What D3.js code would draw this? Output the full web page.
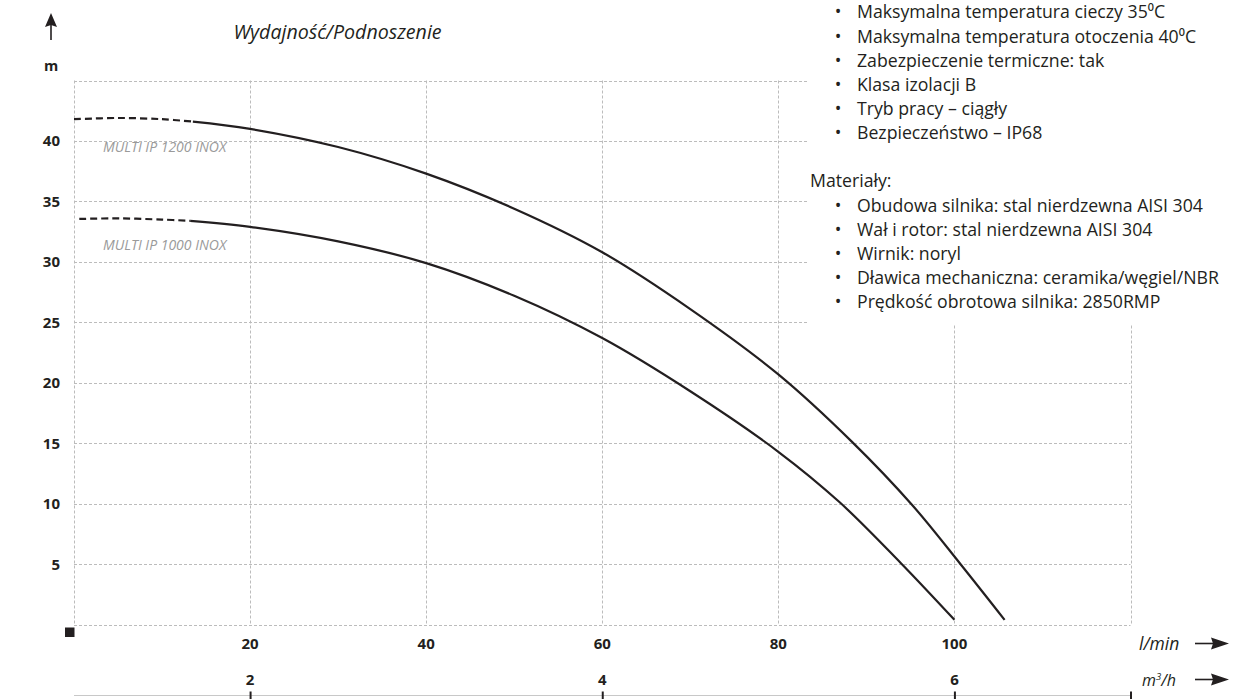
<!doctype html>
<html lang="pl">
<head>
  <meta charset="utf-8">
  <title>Wydajność/Podnoszenie</title>
  <script src="https://d3js.org/d3.v7.min.js"></script>
  <style>
    body { margin: 0; background: #fff; }
    text { font-family: "Open Sans", sans-serif; fill: #231f20; }
    .tick-label { font-weight: bold; font-size: 15px; }
    .grid line { stroke: #bcbcbc; stroke-width: 1; stroke-dasharray: 3,2; }
    .info { font-size: 17.7px; }
    .model { font-style: italic; font-size: 14px; fill: #9a9a9a; }
  </style>
</head>
<body>
<div class="chart-container"></div>
<script>
  // l/min axis + grid
  const flowTicks = [20, 40, 60, 80, 100];
  const flowGrid = [0, 20, 40, 60, 80, 100, 120];
  const headTicks = [5, 10, 15, 20, 25, 30, 35, 40];
  const headGrid = [0, 5, 10, 15, 20, 25, 30, 35, 40, 45];
  const m3hTicks = [2, 4, 6, 7];
  const m3hLabels = [2, 4, 6];

  // MULTI IP 1200 INOX (first 4 points = dashed part)
  const flow1200 = [0, 5, 10, 13.5, 20, 30, 40, 50, 60, 70, 80, 88.4, 95.2, 100.7, 105.7];
  const head1200 = [41.8, 41.9, 41.8, 41.6, 41.0, 39.5, 37.3, 34.4, 30.8, 26.1, 20.7, 15.1, 9.9, 5.0, 0.4];

  // MULTI IP 1000 INOX
  const flow1000 = [0.6, 5, 10, 13.2, 20, 30, 40, 50, 60, 70, 80, 87, 93.9, 100];
  const head1000 = [33.55, 33.6, 33.5, 33.4, 32.9, 31.7, 29.9, 27.2, 23.7, 19.3, 14.3, 10.1, 5.1, 0.4];

  const seriesNames = ['MULTI IP 1200 INOX', 'MULTI IP 1000 INOX'];
  const dashedUntil = 3;

  const infoLines = [
    'Maksymalna temperatura cieczy 35⁰C',
    'Maksymalna temperatura otoczenia 40⁰C',
    'Zabezpieczenie termiczne: tak',
    'Klasa izolacji B',
    'Tryb pracy – ciągły',
    'Bezpieczeństwo – IP68'
  ];
  const materialLines = [
    'Obudowa silnika: stal nierdzewna AISI 304',
    'Wał i rotor: stal nierdzewna AISI 304',
    'Wirnik: noryl',
    'Dławica mechaniczna: ceramika/węgiel/NBR',
    'Prędkość obrotowa silnika: 2850RMP'
  ];

  const width = 1246;
  const height = 699;

  const svg = d3.select('.chart-container').append('svg')
    .attr('width', width)
    .attr('height', height);

  const x = d3.scaleLinear().domain([0, 120]).range([74, 1130.5]);
  const xm = d3.scaleLinear().domain([1, 7]).range([74, 1130.5]);
  const y = d3.scaleLinear().domain([0, 45]).range([624.7, 80.5]);

  // grid
  const grid = svg.append('g').attr('class', 'grid');
  grid.selectAll('line.v')
    .data(flowGrid)
    .enter()
    .append('line')
    .attr('class', 'v')
    .attr('x1', d => Math.round(x(d)) + 0.5)
    .attr('x2', d => Math.round(x(d)) + 0.5)
    .attr('y1', y(45))
    .attr('y2', y(0));
  grid.selectAll('line.h')
    .data(headGrid)
    .enter()
    .append('line')
    .attr('class', 'h')
    .attr('x1', x(0))
    .attr('x2', x(120))
    .attr('y1', d => Math.round(y(d)) + 0.5)
    .attr('y2', d => Math.round(y(d)) + 0.5);

  // white box behind the spec text
  svg.append('rect')
    .attr('x', 808)
    .attr('y', 0)
    .attr('width', width - 808)
    .attr('height', 324)
    .style('fill', '#fff');

  // y labels
  svg.selectAll('text.ylab')
    .data(headTicks)
    .enter()
    .append('text')
    .attr('class', 'tick-label ylab')
    .attr('x', 60)
    .attr('y', d => y(d))
    .attr('dy', '0.36em')
    .style('text-anchor', 'end')
    .text(d => d);

  // l/min labels
  svg.selectAll('text.xlab')
    .data(flowTicks)
    .enter()
    .append('text')
    .attr('class', 'tick-label xlab')
    .attr('x', d => x(d))
    .attr('y', 643.5)
    .attr('dy', '0.36em')
    .style('text-anchor', 'middle')
    .text(d => d);

  // m3/h axis
  const m3hAxis = d3.axisBottom(xm)
    .tickValues(m3hTicks)
    .tickSize(0)
    .tickFormat('');
  const gm = svg.append('g')
    .attr('transform', 'translate(0, 695.5)')
    .call(m3hAxis);
  gm.select('.domain')
    .attr('d', `M${xm(1)},0H${xm(7)}`)
    .style('stroke', '#c8c8c8')
    .style('stroke-width', 1.2);
  gm.selectAll('.tick line')
    .attr('y1', -4)
    .attr('y2', 4)
    .style('stroke', '#231f20')
    .style('stroke-width', 2);

  svg.selectAll('text.mlab')
    .data(m3hLabels)
    .enter()
    .append('text')
    .attr('class', 'tick-label mlab')
    .attr('x', d => xm(d))
    .attr('y', 680)
    .attr('dy', '0.36em')
    .style('text-anchor', 'middle')
    .text(d => d);

  // unit labels + arrows
  svg.append('text')
    .attr('x', 1139)
    .attr('y', 649.5)
    .style('font-style', 'italic')
    .style('font-size', '17.5px')
    .text('l/min');
  const mUnit = svg.append('text')
    .attr('x', 1142)
    .attr('y', 686)
    .style('font-style', 'italic')
    .style('font-size', '16px');
  mUnit.append('tspan').text('m');
  mUnit.append('tspan').attr('dy', -6).style('font-size', '9.5px').text('3');
  mUnit.append('tspan').attr('dy', 6).text('/h');

  const arrow = (x0, y0, x1, y1, head) => {
    svg.append('line')
      .attr('x1', x0).attr('y1', y0).attr('x2', x1).attr('y2', y1)
      .style('stroke', '#231f20').style('stroke-width', 1.6);
    svg.append('path').attr('d', head).style('fill', '#231f20');
  };
  arrow(1195, 643.5, 1215, 643.5, 'M1229,643.5L1211,637.5L1213,643.5L1211,649.5Z');
  arrow(1195, 679.5, 1215, 679.5, 'M1229,679.5L1211,673.5L1213,679.5L1211,685.5Z');
  arrow(51, 40, 51, 25, 'M51,13L45,27L51,25L57,27Z');

  svg.append('text')
    .attr('x', 51)
    .attr('y', 66)
    .attr('dy', '0.36em')
    .style('text-anchor', 'middle')
    .style('font-weight', 'bold')
    .style('font-size', '14.5px')
    .text('m');

  // black square at origin
  svg.append('rect')
    .attr('x', 65)
    .attr('y', 627.5)
    .attr('width', 9.5)
    .attr('height', 9.5)
    .style('fill', '#231f20');

  // title
  svg.append('text')
    .attr('x', 337.5)
    .attr('y', 39)
    .style('text-anchor', 'middle')
    .style('font-style', 'italic')
    .style('font-size', '19.6px')
    .text('Wydajność/Podnoszenie');

  // curves
  const line = d3.line()
    .x(d => x(d[0]))
    .y(d => y(d[1]))
    .curve(d3.curveCatmullRom.alpha(0.5));

  [[flow1200, head1200], [flow1000, head1000]].forEach(([fl, hd]) => {
    const pts = fl.map((f, i) => [f, hd[i]]);
    svg.append('path')
      .attr('d', line(pts.slice(0, dashedUntil + 1)))
      .style('fill', 'none')
      .style('stroke', '#231f20')
      .style('stroke-width', 2.2)
      .style('stroke-dasharray', '7,4');
    svg.append('path')
      .attr('d', line(pts.slice(dashedUntil)))
      .style('fill', 'none')
      .style('stroke', '#231f20')
      .style('stroke-width', 2.2);
  });

  svg.selectAll('text.model')
    .data(seriesNames)
    .enter()
    .append('text')
    .attr('class', 'model')
    .attr('x', 103)
    .attr('y', (d, i) => [151.5, 249.5][i])
    .text(d => d);

  // spec text
  const info = svg.append('g').attr('class', 'info');
  infoLines.forEach((t, i) => {
    const by = 18.3 + i * 24.2;
    info.append('text').attr('x', 838).attr('y', by).style('text-anchor', 'middle').text('•');
    info.append('text').attr('x', 857).attr('y', by).text(t);
  });
  info.append('text').attr('x', 810).attr('y', 186.7).text('Materiały:');
  materialLines.forEach((t, i) => {
    const by = 211.7 + i * 24.1;
    info.append('text').attr('x', 838).attr('y', by).style('text-anchor', 'middle').text('•');
    info.append('text').attr('x', 857).attr('y', by).text(t);
  });
</script>
</body>
</html>
